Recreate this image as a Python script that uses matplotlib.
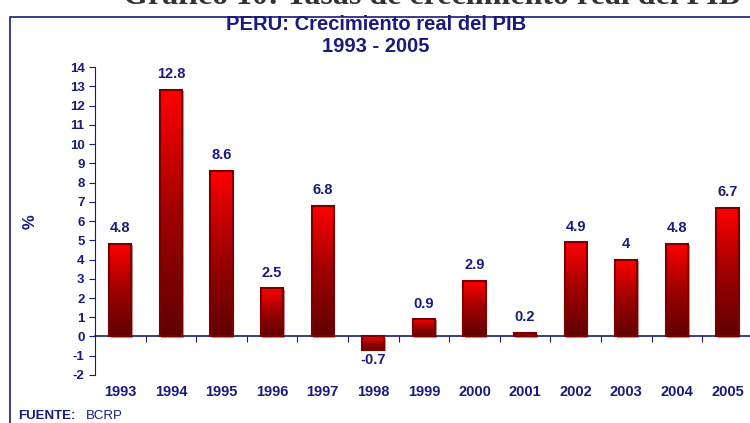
import matplotlib.pyplot as plt
import numpy as np
from matplotlib.patches import Rectangle
from matplotlib.colors import LinearSegmentedColormap

years = ['1993', '1994', '1995', '1996', '1997', '1998', '1999',
         '2000', '2001', '2002', '2003', '2004', '2005']
growth = [4.8, 12.8, 8.6, 2.5, 6.8, -0.7, 0.9, 2.9, 0.2, 4.9, 4.0, 4.8, 6.7]
labels = ['4.8', '12.8', '8.6', '2.5', '6.8', '-0.7', '0.9', '2.9', '0.2', '4.9', '4', '4.8', '6.7']

navy = '#1a1a7e'
plt.rcParams['font.family'] = ['Liberation Sans', 'DejaVu Sans']
plt.rcParams['axes.unicode_minus'] = False

fig = plt.figure(figsize=(7.5, 4.23), dpi=100)
ax = fig.add_axes([0.1267, 0.1135, 0.877, 0.728])

# outer frame
fig.patches.append(Rectangle((10 / 750, -0.05), 1.2, 1 - 17 / 423 + 0.05,
                             transform=fig.transFigure, fill=False,
                             edgecolor=navy, lw=1.2, zorder=0))

# heading cut off by the top edge
fig.text(0.575, 1 - 4 / 423, 'Gráfico 10: Tasas de crecimiento real del PIB',
         family='Liberation Serif', weight='bold', fontsize=23, color='#333333',
         ha='center', va='baseline')

cmap = LinearSegmentedColormap.from_list('bar', ['#600000', '#a00000', '#ff0000'])
grad = np.linspace(0, 1, 256).reshape(-1, 1)
w = 0.44
for i, v in enumerate(growth):
    y0, y1 = min(0, v), max(0, v)
    shadow = Rectangle((i - w / 2 + 0.03, y0 - 0.06), w, y1 - y0,
                       facecolor='#d09090', edgecolor='none', zorder=1)
    ax.add_patch(shadow)
    rect = Rectangle((i - w / 2, y0), w, y1 - y0, facecolor='none',
                     edgecolor='#7a0000', lw=1.5, zorder=3)
    ax.add_patch(rect)
    im = ax.imshow(grad, extent=[i - w / 2, i + w / 2, y0, y1], origin='lower',
                   cmap=cmap, aspect='auto', zorder=2)
    im.set_clip_path(rect)
    if v >= 0:
        ax.text(i, v + 0.45, labels[i], ha='center', va='bottom',
                color=navy, fontsize=10.5, weight='bold')
    else:
        ax.text(i, v - 0.15, labels[i], ha='center', va='top',
                color=navy, fontsize=10.5, weight='bold')

ax.set_xlim(-0.5, 12.5)
ax.set_ylim(-2, 14)
ax.set_yticks(range(-2, 15))

ax.spines['top'].set_visible(False)
ax.spines['right'].set_visible(False)
ax.spines['bottom'].set_position(('data', 0))
ax.spines['bottom'].set_color(navy)
ax.spines['left'].set_color(navy)
ax.spines['bottom'].set_linewidth(1.2)

ax.set_xticks(np.arange(0.5, 12.5, 1))
ax.set_xticklabels([])
ax.set_xticks(range(13), minor=True)
ax.set_xticklabels(years, minor=True)
ax.tick_params(axis='x', which='major', direction='out', length=4, color=navy)
ax.tick_params(axis='x', which='minor', length=0, pad=35, labelsize=10.5,
               labelcolor=navy)
ax.tick_params(axis='y', direction='out', length=4, color=navy, labelsize=9.5,
               labelcolor=navy)
for t in ax.get_xticklabels(minor=True) + ax.get_yticklabels():
    t.set_fontweight('bold')

fig.text(376 / 750, 1 - 25 / 423, 'PERU: Crecimiento real del PIB', ha='center',
         va='center', color=navy, fontsize=14.5, weight='bold')
fig.text(376 / 750, 1 - 46 / 423, '1993 - 2005', ha='center', va='center',
         color=navy, fontsize=14.5, weight='bold')
fig.text(30 / 750, 1 - 222 / 423, '%', rotation=90, ha='center', va='center',
         color=navy, fontsize=12, weight='bold')
fig.text(18 / 750, 1 - 416 / 423, 'FUENTE:', ha='left', va='center',
         color=navy, fontsize=9.5, weight='bold')
fig.text(86 / 750, 1 - 416 / 423, 'BCRP', ha='left', va='center',
         color=navy, fontsize=9.5)

fig.savefig('out.png', dpi=100)
